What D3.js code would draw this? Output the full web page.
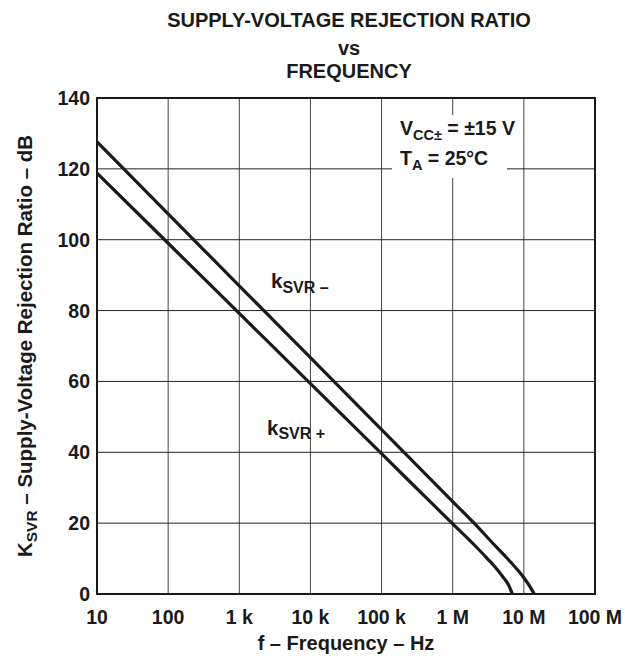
<!DOCTYPE html>
<html><head><meta charset="utf-8">
<script src="https://cdn.jsdelivr.net/npm/d3@7"></script>
<style>body{margin:0;background:#fff}svg{display:block}text{font-family:"Liberation Sans",Arial,sans-serif;font-weight:bold;fill:#1a1a1a}</style>
</head><body><svg id="c" width="625" height="658"></svg>
<script>
const xTicks = [10, 100, 1e3, 1e4, 1e5, 1e6, 1e7, 1e8];
const xTickLabels = ["10", "100", "1 k", "10 k", "100 k", "1 M", "10 M", "100 M"];
const yTicks = [0, 20, 40, 60, 80, 100, 120, 140];
const minusFreq = [10, 100, 1e3, 1e4, 1e5, 1e6, 2e6, 4e6, 6e6, 8e6, 1e7, 1.2e7, 1.4e7];
const minusDb   = [127.6, 107.3, 87, 66.7, 46.4, 26.1, 20, 13.5, 9.8, 7.0, 4.6, 2.3, 0];
const plusFreq  = [10, 100, 1e3, 1e4, 1e5, 1e6, 2e6, 3e6, 4e6, 5e6, 6e6, 6.9e6];
const plusDb    = [118.8, 99, 79.2, 59.4, 39.6, 19.8, 13.9, 10.2, 7.5, 5.0, 2.8, 0];

const L = 97, R = 595, T = 98, B = 594;
const svg = d3.select("#c");
const x = d3.scaleLog().domain([10, 1e8]).range([L, R]);
const y = d3.scaleLinear().domain([0, 140]).range([B, T]);

// grid
svg.append("g").selectAll("line").data(xTicks).join("line")
  .attr("x1", d => x(d)).attr("x2", d => x(d)).attr("y1", T).attr("y2", B)
  .attr("stroke", "#444").attr("stroke-width", 1);
svg.append("g").selectAll("line").data(yTicks).join("line")
  .attr("y1", d => y(d)).attr("y2", d => y(d)).attr("x1", L).attr("x2", R)
  .attr("stroke", "#222").attr("stroke-width", 1);

// annotation background
svg.append("rect").attr("x", 392).attr("y", 115).attr("width", 115).attr("height", 63).attr("fill", "#fff");

// border
svg.append("rect").attr("x", L).attr("y", T).attr("width", R - L).attr("height", B - T)
  .attr("fill", "none").attr("stroke", "#1a1a1a").attr("stroke-width", 2);

// curves
const line = d3.line().x(d => x(d[0])).y(d => y(d[1])).curve(d3.curveMonotoneX);
[[minusFreq, minusDb], [plusFreq, plusDb]].forEach(([f, v]) => {
  svg.append("path").datum(f.map((fi, i) => [fi, v[i]])).attr("d", line)
    .attr("fill", "none").attr("stroke", "#1a1a1a").attr("stroke-width", 3.2)
    .attr("stroke-linejoin", "round");
});

// axes labels
const fs = 19.5;
svg.append("g").selectAll("text").data(yTicks).join("text")
  .attr("x", 90).attr("y", d => y(d)).attr("dy", "0.36em").attr("text-anchor", "end")
  .attr("font-size", fs).text(d => d);
svg.append("g").selectAll("text").data(xTicks).join("text")
  .attr("x", d => x(d)).attr("y", 624).attr("text-anchor", "middle")
  .attr("font-size", fs).text((d, i) => xTickLabels[i]);

svg.append("text").attr("x", (L + R) / 2).attr("y", 650).attr("text-anchor", "middle")
  .attr("font-size", 20).text("f – Frequency – Hz");

const yl = svg.append("text").attr("transform", `translate(32,${(T + B) / 2}) rotate(-90)`)
  .attr("text-anchor", "middle").attr("font-size", 20.5);
yl.append("tspan").text("K");
yl.append("tspan").attr("font-size", 15.5).attr("dy", 5).text("SVR");
yl.append("tspan").attr("dy", -5).text(" – Supply-Voltage Rejection Ratio – dB");

// title
const tl = ["SUPPLY-VOLTAGE REJECTION RATIO", "vs", "FREQUENCY"];
const ty = [27, 55, 78];
svg.append("g").selectAll("text").data(tl).join("text")
  .attr("x", 349).attr("y", (d, i) => ty[i]).attr("text-anchor", "middle")
  .attr("font-size", 20).text(d => d);

// annotation
const a1 = svg.append("text").attr("x", 400).attr("y", 135).attr("font-size", 19.5);
a1.append("tspan").text("V");
a1.append("tspan").attr("font-size", 14.5).attr("dy", 5).text("CC±");
a1.append("tspan").attr("dy", -5).text(" = ±15 V");
const a2 = svg.append("text").attr("x", 400).attr("y", 165).attr("font-size", 19.5);
a2.append("tspan").text("T");
a2.append("tspan").attr("font-size", 14.5).attr("dy", 5).text("A");
a2.append("tspan").attr("dy", -5).text(" = 25°C");

// curve labels
const k1 = svg.append("text").attr("x", 271).attr("y", 288).attr("font-size", 20.5);
k1.append("tspan").text("k");
k1.append("tspan").attr("font-size", 16).attr("dy", 5).text("SVR –");
const k2 = svg.append("text").attr("x", 267).attr("y", 435).attr("font-size", 20.5);
k2.append("tspan").text("k");
k2.append("tspan").attr("font-size", 16).attr("dy", 4).text("SVR +");
</script></body></html>
